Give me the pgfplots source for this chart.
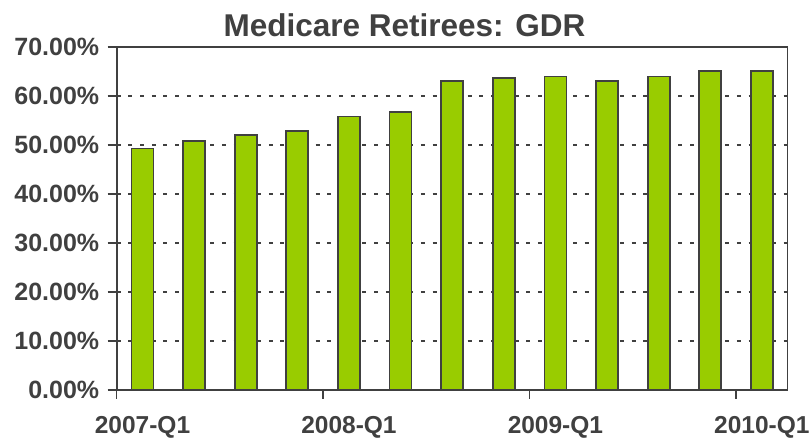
\documentclass[border=0pt]{standalone}
\usepackage{pgfplots}
\pgfplotsset{compat=1.18}
\usepackage{fontspec}
\setmainfont{Liberation Sans}
\definecolor{bargreen}{HTML}{99CC00}
\definecolor{dk}{HTML}{404040}
\begin{document}
\begin{tikzpicture}
\useasboundingbox (-116.7pt,-49pt) rectangle (695.3pt,390pt);
\begin{axis}[
 at={(0pt,0pt)}, anchor=south west,
 scale only axis, width=671pt, height=343pt,
 xmin=-0.5, xmax=12.5, ymin=0, ymax=70,
 ybar, bar width=22pt,
 xtick={-0.5,3.5,7.5,11.5},
 xticklabels={2007-Q1,2008-Q1,2009-Q1,2010-Q1},
 xticklabel style={xshift=25.8pt, yshift=-14pt, font=\fontsize{24.5}{28}\selectfont\bfseries, text=dk},
 ytick={0,10,...,70},
 yticklabel={\pgfmathprintnumber[fixed,fixed zerofill,precision=2]{\tick}\%},
 yticklabel style={xshift=-5pt, font=\fontsize{25}{28}\selectfont\bfseries, text=dk},
 /pgf/number format/assume math mode=true,
 tick align=outside, major tick length=9pt,
 tick style={dk, line width=1.5pt},
 xtick pos=bottom, ytick pos=left,
 ymajorgrids, grid style={dk, line width=1.6pt, dash pattern=on 4pt off 7.7pt},
 axis line style={dk, line width=1.2pt},
]
\addplot[fill=bargreen, draw=dk, line width=1.8pt] coordinates {
 (0,49.3) (1,50.8) (2,52.1) (3,52.9) (4,55.8) (5,56.7) (6,63.1)
 (7,63.6) (8,64.0) (9,63.1) (10,64.0) (11,65.1) (12,65.1)};
\draw[dk, line width=2pt] (rel axis cs:0,1) -- (rel axis cs:0,0) -- (rel axis cs:1,0);
\end{axis}
\node[anchor=base, font=\fontsize{31.5}{36}\selectfont\bfseries, text=dk] at (287.8pt,353pt) {Medicare Retirees: GDR};
\end{tikzpicture}
\end{document}
